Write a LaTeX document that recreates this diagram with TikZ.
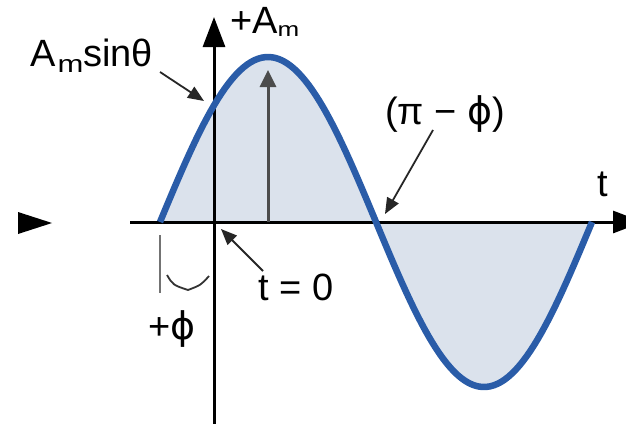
\documentclass[tikz,border=0pt]{standalone}
\usepackage{fontspec}
\setmainfont{Liberation Sans}
\newfontfamily\symfont{DejaVu Sans}
\usetikzlibrary{arrows.meta}
\definecolor{wave}{HTML}{2A5CA8}
\definecolor{wavefill}{HTML}{DBE2EC}
\newcommand{\subm}[2]{\raisebox{#1}{\scalebox{1}[0.78]{\fontsize{#2}{#2}\selectfont m}}}
\begin{document}
\begin{tikzpicture}[x=1pt,y=-1pt,
  lbl/.style={font=\fontsize{38}{40}\selectfont, inner sep=0pt, anchor=base west},
  ptr/.style={draw=black!85, line width=1.8pt, -{Triangle[length=16pt,width=13pt]}},
  axisline/.style={draw=black, line width=3pt, -{Triangle[length=30pt,width=22pt]}},
  amparrow/.style={draw=black!70, line width=3pt, -{Triangle[length=17pt,width=16pt]}},
  wavepath/.style={draw=wave, line width=6.5pt},
  tickline/.style={draw=black!55, line width=2.5pt},
  bracketline/.style={draw=black!80, line width=1.8pt},
]
\useasboundingbox (0,0) rectangle (626,423);
\clip (0,0) rectangle (626,423);
% filled area
\fill[wavefill] plot[domain=0:360, samples=120, variable=\t] ({160+1.2*\t},{222-165*sin(\t)}) -- cycle;
% axes
\coordinate (xs) at (130,222); \coordinate (xe) at (643,222);
\draw[axisline] (xs) -- (xe);
\coordinate (ys) at (214,430); \coordinate (ye) at (214,17);
\draw[axisline] (ys) -- (ye);
% amplitude arrow
\coordinate (pk0) at (268,222); \coordinate (pk) at (268,70);
\draw[amparrow] (pk0) -- (pk);
% wave
\draw[wavepath] plot[domain=0:360, samples=120, variable=\t] ({160+1.2*\t},{222-165*sin(\t)});
% detached arrowhead
\fill[black] (18,212) -- (52,223) -- (18,234) -- cycle;
% labels
\node[lbl] (amsin) at (30,66) {A\hspace{2pt}\subm{-6pt}{31}sinθ};
\node[lbl] (amp) at (230,33) {+A\subm{-3pt}{26}};
\node[lbl] (pimphi) at (385,124) {(π − {\symfont ϕ})};
\node[lbl] (tl) at (597,196) {t};
\node[lbl] (t0) at (258,300) {t = 0};
\node[lbl] (phi) at (148,339) {+{\symfont ϕ}};
% pointers
\coordinate (a1s) at (160,72); \coordinate (a1e) at (204,101);
\draw[ptr] (a1s) -- (a1e);
\coordinate (a2s) at (263,271); \coordinate (a2e) at (221,229);
\draw[ptr] (a2s) -- (a2e);
\coordinate (a3s) at (433,130); \coordinate (a3e) at (385,214);
\draw[ptr] (a3s) -- (a3e);
% phase tick and bracket
\coordinate (tk1) at (160,235); \coordinate (tk2) at (160,293);
\draw[tickline] (tk1) -- (tk2);
\coordinate (br1) at (167,275); \coordinate (brm) at (188,290); \coordinate (br2) at (209,276);
\draw[bracketline] (br1) .. controls (173,285) .. (brm) .. controls (201,285) .. (br2);
\end{tikzpicture}
\end{document}
